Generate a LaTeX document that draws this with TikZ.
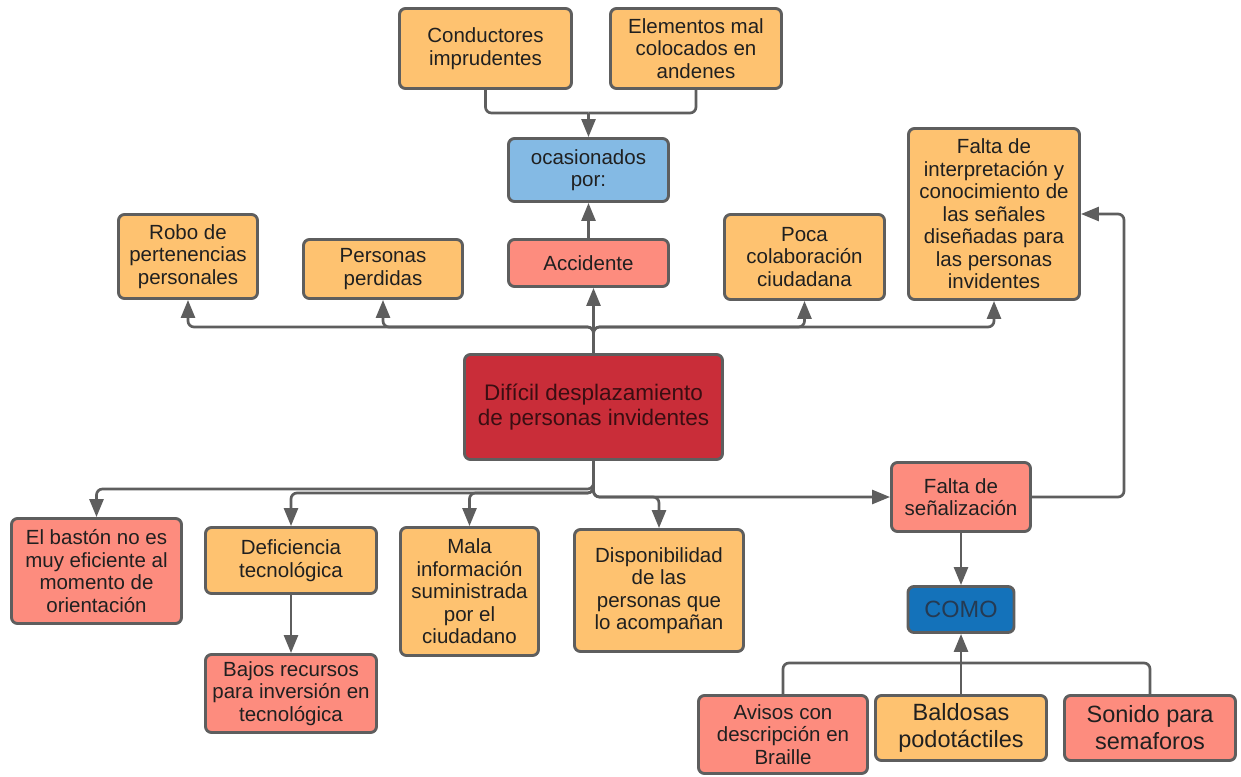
\documentclass[tikz,border=0pt]{standalone}
\usepackage{fontspec}
\setmainfont{Liberation Sans}
\usetikzlibrary{arrows.meta}

\definecolor{boxorange}{HTML}{FEC270}
\definecolor{boxsalmon}{HTML}{FD8C7E}
\definecolor{boxred}{HTML}{C92D39}
\definecolor{boxlightblue}{HTML}{84BAE4}
\definecolor{boxblue}{HTML}{1472BA}
\definecolor{edgegray}{HTML}{5E5E5E}
\definecolor{inkdark}{HTML}{202020}
\definecolor{inkmain}{HTML}{3A0E12}
\definecolor{inkblue}{HTML}{253A52}

\begin{document}
\begin{tikzpicture}[x=1pt,y=-1pt,
  box/.style={draw=edgegray, line width=2.9pt, rounded corners=6pt, align=center,
    inner sep=2pt, text=inkdark, font=\fontsize{20.5}{22.5}\selectfont},
  orangebox/.style={box, fill=boxorange},
  salmonbox/.style={box, fill=boxsalmon},
  bigtext/.style={font=\fontsize{23.5}{27}\selectfont},
  conn/.style={draw=edgegray, line width=2.7pt, rounded corners=6pt},
  arr/.style={conn, -{Triangle[length=18pt,width=14pt]}},
]
\useasboundingbox[fill=white] (0,0) rectangle (1241,776);

% upper row of causes
\node[orangebox, minimum width=172pt, minimum height=80pt] (cond) at (485.5,48.5) {Conductores\\imprudentes};
\node[orangebox, minimum width=171pt, minimum height=80pt] (elem) at (696,48.5) {Elementos mal\\colocados en\\andenes};
\node[box, fill=boxlightblue, minimum width=160pt, minimum height=63pt] (ocas) at (588.5,170) {ocasionados\\por:};
\node[salmonbox, minimum width=160pt, minimum height=47pt] (acc) at (588.5,263) {Accidente};

\node[orangebox, minimum width=139pt, minimum height=84pt] (robo) at (188,256.5) {Robo de\\pertenencias\\personales};
\node[orangebox, minimum width=159pt, minimum height=59pt] (pers) at (383,269) {Personas\\perdidas};
\node[orangebox, minimum width=160pt, minimum height=85pt] (poca) at (804.5,257) {Poca\\colaboración\\ciudadana};
\node[orangebox, minimum width=171pt, minimum height=171pt] (interp) at (994,214)
  {Falta de\\interpretación y\\conocimiento de\\las señales\\diseñadas para\\las personas\\invidentes};

% central problem
\node[box, fill=boxred, text=inkmain, font=\fontsize{22.5}{24.5}\selectfont,
  minimum width=258pt, minimum height=105pt] (main) at (593.5,407) {Difícil desplazamiento\\de personas invidentes};

% lower row
\node[salmonbox, minimum width=170pt, minimum height=105pt] (baston) at (96.5,571) {El bastón no es\\muy eficiente al\\momento de\\orientación};
\node[orangebox, minimum width=171pt, minimum height=66pt] (defi) at (291,560.5) {Deficiencia\\tecnológica};
\node[salmonbox, minimum width=171pt, minimum height=78pt] (bajos) at (291,693.5) {Bajos recursos\\para inversión en\\tecnológica};
\node[orangebox, minimum width=138pt, minimum height=128pt] (mala) at (469.5,591.5) {Mala\\información\\suministrada\\por el\\ciudadano};
\node[orangebox, minimum width=169pt, minimum height=122pt] (disp) at (659,590.5) {Disponibilidad\\de las\\personas que\\lo acompañan};
\node[salmonbox, minimum width=139pt, minimum height=69pt] (senal) at (961,497) {Falta de\\señalización};
\node[box, fill=boxblue, text=inkblue, bigtext, minimum width=106pt, minimum height=46pt] (como) at (961,609.5) {COMO};

\node[salmonbox, minimum width=169pt, minimum height=78pt] (avisos) at (783,734.5) {Avisos con\\descripción en\\Braille};
\node[orangebox, bigtext, minimum width=171pt, minimum height=65pt] (bald) at (961,728) {Baldosas\\podotáctiles};
\node[salmonbox, bigtext, minimum width=171pt, minimum height=65pt] (sonido) at (1150,728) {Sonido para\\semaforos};

% rails of the branching connectors
\coordinate (topj) at (588.5,113);
\coordinate (rail) at (0,327);
\coordinate (railA) at (0,489);
\coordinate (railB) at (0,493);
\coordinate (railC) at (0,497);
\coordinate (rx) at (1124,0);
\coordinate (botj) at (961,663);

% causes of accidents
\draw[conn] (cond.south) |- (topj);
\draw[conn] (elem.south) |- (topj);
\draw[arr] (topj) -- (ocas.north);
\draw[arr] (acc.north) -- (ocas.south);

% upward branches from the central problem
\draw[arr] (main.north) -- (acc.south -| main.north);
\draw[arr] (main.north) |- (rail -| robo.south) -- (robo.south);
\draw[arr] (main.north) |- (rail -| pers.south) -- (pers.south);
\draw[arr] (main.north) |- (rail -| poca.south) -- (poca.south);
\draw[arr] (main.north) |- (rail -| interp.south) -- (interp.south);

% downward branches from the central problem
\draw[arr] (main.south) |- (railA -| baston.north) -- (baston.north);
\draw[arr] (main.south) |- (railB -| defi.north) -- (defi.north);
\draw[arr] (main.south) |- (railB -| mala.north) -- (mala.north);
\draw[arr] (main.south) |- (railC -| disp.north) -- (disp.north);
\draw[arr] (main.south) |- (senal.west);

\draw[arr] (defi.south) -- (bajos.north);
\draw[arr] (senal.east) -- (senal.east -| rx) -- (rx |- interp.east) -- (interp.east);
\draw[arr] (senal.south) -- (como.north);

% examples of signage
\draw[conn] (avisos.north) |- (botj);
\draw[conn] (sonido.north) |- (botj);
\draw[arr] (bald.north) -- (como.south);
\end{tikzpicture}
\end{document}
